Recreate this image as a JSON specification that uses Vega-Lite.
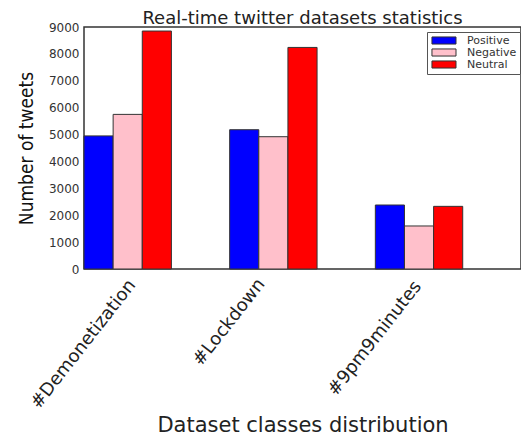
{
  "$schema": "https://vega.github.io/schema/vega-lite/v6.json",
  "width": 437,
  "height": 242,
  "autosize": {"type": "none"},
  "padding": {"left": 84, "top": 27, "right": 0, "bottom": 166},
  "background": "white",
  "config": {
    "view": {"stroke": "#333333", "strokeWidth": 1.5},
    "font": "DejaVu Sans"
  },
  "title": {
    "text": "Real-time twitter datasets statistics",
    "fontSize": 18,
    "fontWeight": "normal",
    "color": "#222222",
    "offset": 3,
    "dy": 10,
    "font": "DejaVu Sans"
  },
  "data": {
    "values": [
      {"dataset": "#Demonetization", "sentiment": "Positive", "tweets": 4950},
      {"dataset": "#Demonetization", "sentiment": "Negative", "tweets": 5750},
      {"dataset": "#Demonetization", "sentiment": "Neutral", "tweets": 8850},
      {"dataset": "#Lockdown", "sentiment": "Positive", "tweets": 5180},
      {"dataset": "#Lockdown", "sentiment": "Negative", "tweets": 4920},
      {"dataset": "#Lockdown", "sentiment": "Neutral", "tweets": 8240},
      {"dataset": "#9pm9minutes", "sentiment": "Positive", "tweets": 2380},
      {"dataset": "#9pm9minutes", "sentiment": "Negative", "tweets": 1600},
      {"dataset": "#9pm9minutes", "sentiment": "Neutral", "tweets": 2330}
    ]
  },
  "mark": {"type": "bar", "stroke": "#333333", "strokeWidth": 1},
  "encoding": {
    "x": {
      "field": "dataset",
      "type": "nominal",
      "sort": ["#Demonetization", "#Lockdown", "#9pm9minutes"],
      "scale": {"paddingInner": 0.4, "paddingOuter": 0.2, "align": 0},
      "axis": {
        "title": "Dataset classes distribution",
        "titleFontSize": 21,
        "titleFontWeight": "normal",
        "titleColor": "#222222",
        "titleBaseline": "alphabetic",
        "titleY": 162,
        "labelAngle": -52,
        "labelAlign": "center",
        "labelBaseline": "middle",
        "labelFontSize": 18,
        "labelColor": "#222222",
        "labelOffset": -44,
        "labelPadding": {
          "condition": [
            {"test": "datum.value == '#Demonetization'", "value": 75},
            {"test": "datum.value == '#Lockdown'", "value": 53}
          ],
          "value": 69
        },
        "ticks": false,
        "domain": false
      }
    },
    "xOffset": {
      "field": "sentiment",
      "type": "nominal",
      "sort": ["Positive", "Negative", "Neutral"],
      "scale": {"paddingInner": 0, "paddingOuter": 0}
    },
    "y": {
      "field": "tweets",
      "type": "quantitative",
      "scale": {"domain": [0, 9000], "nice": false},
      "axis": {
        "title": "Number of tweets",
        "titleFont": "DejaVu Sans Condensed, Liberation Sans Narrow, DejaVu Sans",
        "titleFontSize": 19,
        "titleFontWeight": "normal",
        "titleColor": "#111111",
        "titleBaseline": "alphabetic",
        "titleX": -52,
        "values": [0, 1000, 2000, 3000, 4000, 5000, 6000, 7000, 8000, 9000],
        "format": "d",
        "labelFontSize": 12,
        "labelColor": "#333333",
        "labelPadding": 5,
        "ticks": false,
        "grid": false,
        "domain": false
      }
    },
    "color": {
      "field": "sentiment",
      "type": "nominal",
      "sort": ["Positive", "Negative", "Neutral"],
      "scale": {"domain": ["Positive", "Negative", "Neutral"], "range": ["#0000ff", "#ffc0cb", "#ff0000"]},
      "legend": {
        "title": null,
        "orient": "none",
        "legendX": 343,
        "legendY": 5,
        "direction": "vertical",
        "strokeColor": "#555555",
        "fillColor": "white",
        "padding": 3,
        "rowPadding": -1,
        "symbolType": "M-1,-1H5.8V1H-1Z",
        "symbolSize": 50,
        "symbolStrokeColor": "#333333",
        "symbolStrokeWidth": 1,
        "symbolOpacity": 1,
        "labelFontSize": 11,
        "labelColor": "#333333",
        "labelOffset": 26
      }
    }
  }
}
